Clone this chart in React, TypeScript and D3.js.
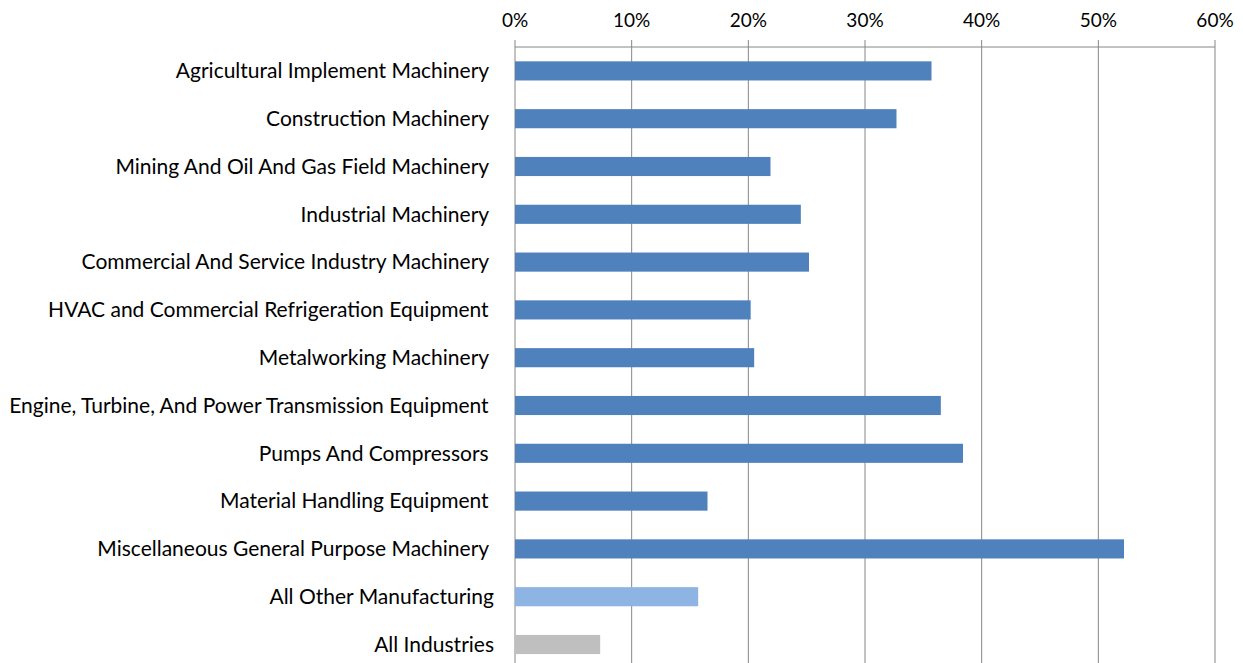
import React from 'react';
import * as d3 from 'd3';

const categories = [
  'Agricultural Implement Machinery ',
  'Construction Machinery ',
  'Mining And Oil And Gas Field Machinery ',
  'Industrial Machinery ',
  'Commercial And Service Industry Machinery ',
  'HVAC and Commercial Refrigeration Equipment ',
  'Metalworking Machinery ',
  'Engine, Turbine, And Power Transmission Equipment ',
  'Pumps And Compressors ',
  'Material Handling Equipment ',
  'Miscellaneous General Purpose Machinery ',
  'All Other Manufacturing',
  'All Industries',
];
const values = [0.357, 0.327, 0.219, 0.245, 0.252, 0.202, 0.205, 0.365, 0.384, 0.165, 0.522, 0.157, 0.073];
const groups = ['m', 'm', 'm', 'm', 'm', 'm', 'm', 'm', 'm', 'm', 'm', 'other', 'all'];
const ticks = [0, 0.1, 0.2, 0.3, 0.4, 0.5, 0.6];

const W = 1243;
const H = 663;
const left = 515;
const right = 1215;
const axisY = 47;

const App = () => {
  const x = d3.scaleLinear().domain([0, 0.6]).range([left, right]);
  const y = d3.scaleBand().domain(categories).range([axisY, axisY + 47.8 * categories.length]).paddingInner(0.6).paddingOuter(0.3);
  const color = d3.scaleOrdinal<string, string>().domain(['m', 'other', 'all']).range(['#4F81BD', '#8EB4E3', '#BFBFBF']);
  const fmt = d3.format('.0%');
  const font = 'Lato, "Open Sans", sans-serif';

  return (
    <svg width={W} height={H} style={{ position: 'absolute', left: 0, top: 0 }} fontFamily={font}>
      <rect width={W} height={H} fill="#fff" />
      {ticks.map((t, i) => (
        <g key={i}>
          <line x1={x(t)} x2={x(t)} y1={40} y2={H} stroke="#868686" strokeWidth={1} />
          <text x={x(t)} y={27} textAnchor="middle" fontSize={19} fill="#000">{fmt(t)}</text>
        </g>
      ))}
      <line x1={left} x2={right} y1={axisY} y2={axisY} stroke="#868686" strokeWidth={1} />
      {categories.map((c, i) => (
        <g key={c}>
          <rect x={x(0)} y={y(c)} width={x(values[i]) - x(0)} height={y.bandwidth()} fill={color(groups[i])} />
          <text x={left - 21} y={(y(c) ?? 0) + y.bandwidth() / 2} dy="0.35em" textAnchor="end" fontSize={21} fill="#000" style={{ whiteSpace: 'pre' }}>{c}</text>
        </g>
      ))}
    </svg>
  );
};

export default App;
